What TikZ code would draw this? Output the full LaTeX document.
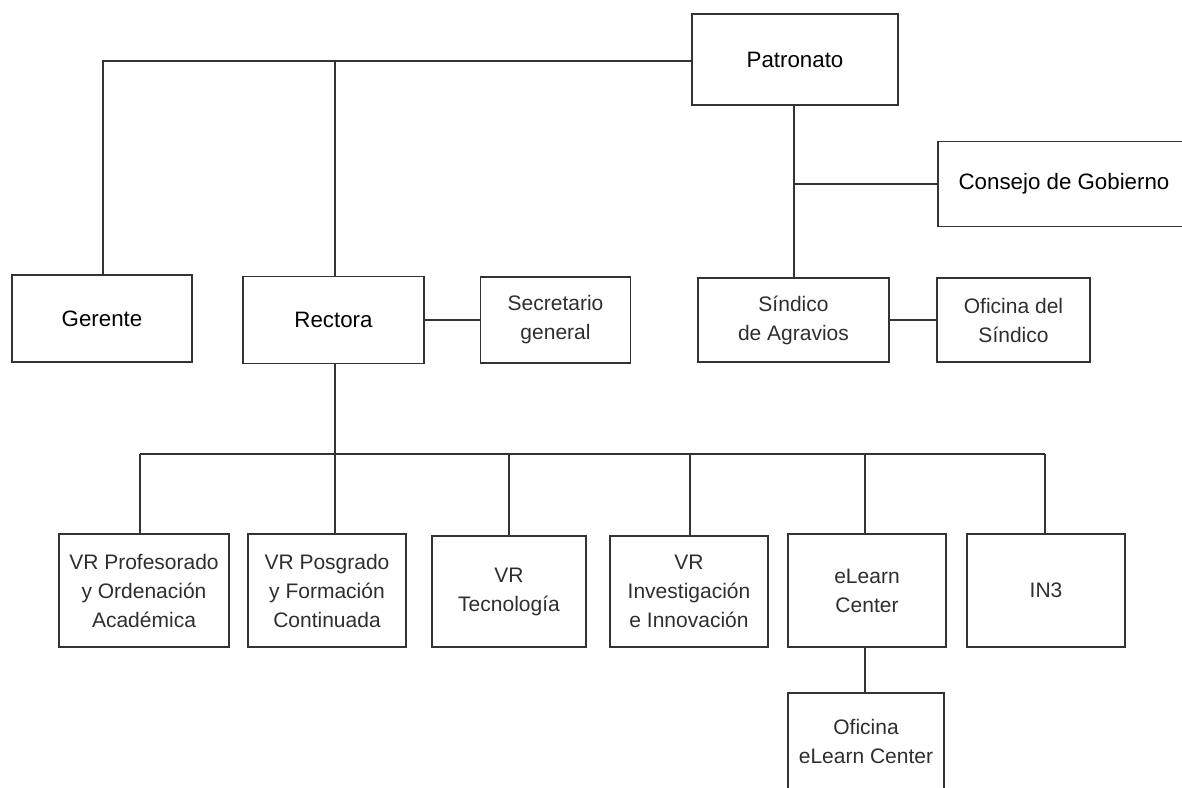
\documentclass[tikz,border=0pt]{standalone}
\usepackage{fontspec}
\setmainfont{Liberation Sans}
\begin{document}
\begin{tikzpicture}[x=1pt,y=-1pt,
  box/.style={draw=black!80,line width=1.3pt,rectangle,inner sep=0pt,align=center},
  mainbox/.style={box,text=black,font=\fontsize{22.3}{29}\selectfont},
  subbox/.style={box,text=black!82,font=\fontsize{21}{29}\selectfont},
  conn/.style={draw=black!80,line width=1.3pt}]
\useasboundingbox (0,0) rectangle (1182,787);
\clip (0,0) rectangle (1182,787);
% top level
\node[mainbox,minimum width=206pt,minimum height=91pt] (pat) at (795,59.5) {Patronato};
\node[mainbox,minimum width=252pt,minimum height=85pt] (con) at (1064,184) {Consejo de Gobierno};
\node[mainbox,minimum width=180pt,minimum height=87pt] (ger) at (102,318.5) {Gerente};
\node[mainbox,minimum width=181pt,minimum height=87pt] (rec) at (333.5,320) {Rectora};
\node[subbox,minimum width=150pt,minimum height=86pt] (sec) at (555.5,320) {Secretario\\general};
\node[subbox,minimum width=191pt,minimum height=84pt] (sin) at (793.5,320) {Síndico\\de Agravios};
\node[subbox,minimum width=153pt,minimum height=84pt] (ofs) at (1013.5,320) {Oficina del\\Síndico};
% bottom level
\node[subbox,minimum width=170pt,minimum height=113pt] (vrp) at (144,590.5) {VR Profesorado\\y Ordenación\\Académica};
\node[subbox,minimum width=158pt,minimum height=113pt] (vrf) at (327,590.5) {VR Posgrado\\y Formación\\Continuada};
\node[subbox,minimum width=154pt,minimum height=111pt] (vrt) at (509,591.5) {VR\\Tecnología};
\node[subbox,minimum width=158pt,minimum height=111pt] (vri) at (689,591.5) {VR\\Investigación\\e Innovación};
\node[subbox,minimum width=158pt,minimum height=113pt] (elc) at (867,590.5) {eLearn\\Center};
\node[subbox,minimum width=158pt,minimum height=113pt] (in3) at (1046,590.5) {IN3};
\node[subbox,minimum width=156pt,minimum height=96pt] (oel) at (866,741) {Oficina\\eLearn Center};
% connectors, top
\coordinate (tg) at (103,61);
\coordinate (tr) at (335,61);
\coordinate (pv) at (794,105);
\coordinate (pc) at (794,184);
\draw[conn] (pat.west |- tg) -- (tg) -- (tg |- ger.north);
\draw[conn] (tr) -- (tr |- rec.north);
\draw[conn] (pv) -- (pv |- sin.north);
\draw[conn] (pc) -- (con.west);
\draw[conn] (rec.east) -- (sec.west);
\draw[conn] (sin.east) -- (ofs.west);
% connectors, bottom
\coordinate (b1) at (140,454);
\coordinate (b2) at (335,454);
\coordinate (b3) at (509,454);
\coordinate (b4) at (690,454);
\coordinate (b5) at (865,454);
\coordinate (b6) at (1045,454);
\draw[conn] (b1) -- (b6);
\draw[conn] (b2 |- rec.south) -- (b2 |- vrf.north);
\draw[conn] (b1) -- (b1 |- vrp.north);
\draw[conn] (b3) -- (b3 |- vrt.north);
\draw[conn] (b4) -- (b4 |- vri.north);
\draw[conn] (b5) -- (b5 |- elc.north);
\draw[conn] (b6) -- (b6 |- in3.north);
\draw[conn] (b5 |- elc.south) -- (b5 |- oel.north);
\end{tikzpicture}
\end{document}
